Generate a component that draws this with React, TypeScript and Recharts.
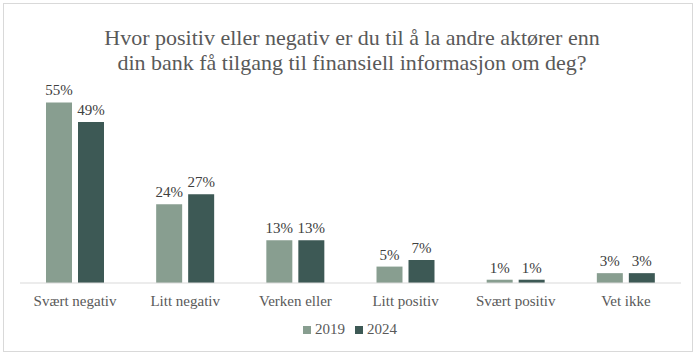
import { BarChart, Bar, XAxis, YAxis, LabelList } from 'recharts';

const categories = ['Svært negativ', 'Litt negativ', 'Verken eller', 'Litt positiv', 'Svært positiv', 'Vet ikke'];
const values2019 = [55, 24, 13, 5, 1, 3];
const values2024 = [49, 27, 13, 7, 1, 3];
const seriesNames = ['2019', '2024'];
const seriesColors = ['#889E90', '#3D5955'];
const titleLines = [
  'Hvor positiv eller negativ er du til å la andre aktører enn',
  'din bank få tilgang til finansiell informasjon om deg?',
];

const data = categories.map((name, i) => ({
  name,
  y2019: values2019[i],
  y2024: values2024[i],
}));

const FONT = '"Liberation Serif", "DejaVu Serif", serif';

export default function App() {
  return (
    <div style={{ position: 'absolute', left: 0, top: 0, width: 697, height: 355, background: '#fff', fontFamily: FONT }}>
      <div
        style={{
          position: 'absolute',
          left: 3,
          top: 3,
          width: 688,
          height: 347,
          border: '1px solid #D9D9D9',
          boxSizing: 'content-box',
        }}
      />
      <div
        style={{
          position: 'absolute',
          left: 0,
          top: 26,
          width: 704,
          textAlign: 'center',
          fontSize: 22,
          lineHeight: '24.5px',
          color: '#595959',
        }}
      >
        {titleLines.map((t) => (
          <div key={t}>{t}</div>
        ))}
      </div>
      <div style={{ position: 'absolute', left: 0, top: 0 }}>
        <BarChart
          width={697}
          height={355}
          data={data}
          margin={{ top: 86, right: 16, bottom: 42, left: 20 }}
          barCategoryGap={26}
          barGap={6}
        >
          <XAxis
            dataKey="name"
            tickLine={false}
            axisLine={{ stroke: '#D9D9D9' }}
            tick={{ fill: '#595959', fontSize: 15, fontFamily: FONT }}
            tickMargin={6}
            interval={0}
          />
          <YAxis hide domain={[0, 60]} />
          <Bar dataKey="y2019" fill={seriesColors[0]} isAnimationActive={false}>
            <LabelList
              dataKey="y2019"
              position="top"
              offset={7}
              formatter={(v: number) => `${v}%`}
              style={{ fill: '#404040', fontSize: 15, fontFamily: FONT }}
            />
          </Bar>
          <Bar dataKey="y2024" fill={seriesColors[1]} isAnimationActive={false}>
            <LabelList
              dataKey="y2024"
              position="top"
              offset={7}
              formatter={(v: number) => `${v}%`}
              style={{ fill: '#404040', fontSize: 15, fontFamily: FONT }}
            />
          </Bar>
        </BarChart>
      </div>
      <div
        style={{
          position: 'absolute',
          left: 0,
          top: 321,
          width: 700,
          display: 'flex',
          justifyContent: 'center',
          fontSize: 15,
          color: '#595959',
        }}
      >
        {seriesNames.map((s, i) => (
          <div key={s} style={{ display: 'flex', alignItems: 'center', marginRight: i === 0 ? 10 : 0 }}>
            <span style={{ display: 'inline-block', width: 8, height: 8, background: seriesColors[i], marginRight: 4 }} />
            <span>{s}</span>
          </div>
        ))}
      </div>
    </div>
  );
}
